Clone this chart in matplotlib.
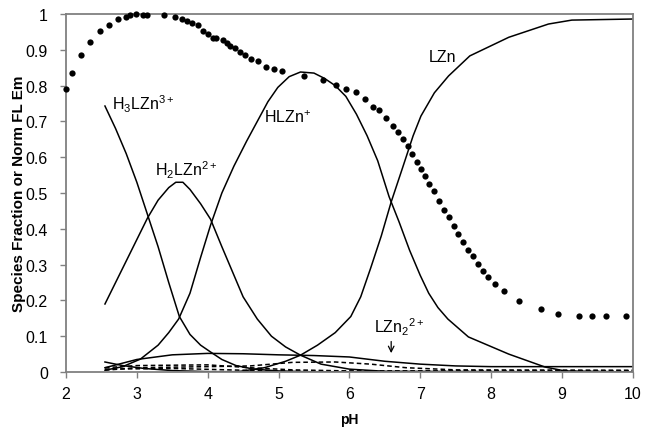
import matplotlib
matplotlib.use("Agg")
import matplotlib.pyplot as plt

plt.rcParams['font.family'] = ['Liberation Sans', 'DejaVu Sans']
plt.rcParams['mathtext.fontset'] = 'custom'
plt.rcParams['mathtext.rm'] = 'Liberation Sans'
plt.rcParams['mathtext.default'] = 'rm'

# normalised fluorescence emission (dots)
ph_fl = [2.00, 2.08, 2.21, 2.34, 2.48, 2.61, 2.74, 2.84, 2.91, 2.99, 3.08, 3.15, 3.39,
         3.54, 3.64, 3.71, 3.78, 3.86, 3.93, 4.00, 4.07, 4.12, 4.21, 4.27, 4.32, 4.38,
         4.45, 4.52, 4.61, 4.71, 4.82, 4.93, 5.05, 5.36, 5.63, 5.81, 5.95, 6.09, 6.22,
         6.33, 6.42, 6.52, 6.62, 6.69, 6.76, 6.83, 6.89, 6.96, 7.01, 7.07, 7.13, 7.20,
         7.27, 7.33, 7.40, 7.47, 7.54, 7.61, 7.68, 7.75, 7.82, 7.89, 7.96, 8.05, 8.18,
         8.39, 8.71, 8.95, 9.24, 9.42, 9.62, 9.90]
fl_em = [0.791, 0.835, 0.885, 0.922, 0.953, 0.969, 0.986, 0.992, 0.997, 1.0, 0.998, 0.998, 0.998,
         0.992, 0.986, 0.980, 0.975, 0.969, 0.953, 0.944, 0.933, 0.933, 0.927, 0.919, 0.911, 0.905,
         0.894, 0.885, 0.874, 0.869, 0.852, 0.846, 0.841, 0.827, 0.816, 0.802, 0.791, 0.782, 0.762,
         0.740, 0.732, 0.709, 0.687, 0.670, 0.651, 0.631, 0.609, 0.587, 0.567, 0.547, 0.525, 0.506,
         0.478, 0.453, 0.433, 0.408, 0.385, 0.363, 0.341, 0.324, 0.302, 0.282, 0.265, 0.246, 0.226,
         0.198, 0.176, 0.162, 0.156, 0.156, 0.156, 0.156]

# species distribution
ph_h3 = [2.55, 2.7, 2.85, 3.0, 3.15, 3.3, 3.45, 3.6, 3.75, 3.9, 4.04, 4.2, 4.4, 4.65, 5.0, 5.5, 10.0]
h3lzn = [0.743, 0.68, 0.61, 0.53, 0.44, 0.35, 0.25, 0.155, 0.105, 0.075, 0.056, 0.035, 0.018,
         0.008, 0.003, 0.0, 0.0]

ph_h2 = [2.55, 2.7, 2.85, 3.0, 3.15, 3.3, 3.45, 3.55, 3.65, 3.75, 3.9, 4.04, 4.2, 4.35, 4.5, 4.7,
         4.9, 5.1, 5.31, 5.6, 6.0, 6.5, 10.0]
h2lzn = [0.19, 0.25, 0.31, 0.37, 0.43, 0.48, 0.515, 0.53, 0.53, 0.51, 0.47, 0.427, 0.35, 0.28,
         0.21, 0.148, 0.10, 0.07, 0.047, 0.022, 0.008, 0.002, 0.0]

ph_h1 = [2.55, 2.8, 3.05, 3.3, 3.45, 3.59, 3.75, 3.9, 4.04, 4.2, 4.37, 4.55, 4.7, 4.85, 4.99, 5.15,
         5.31, 5.5, 5.65, 5.8, 5.95, 6.1, 6.25, 6.4, 6.56, 6.7, 6.85, 7.0, 7.12, 7.25, 7.39, 7.68,
         8.25, 8.76, 9.04, 10.0]
hlzn = [0.005, 0.015, 0.036, 0.075, 0.11, 0.148, 0.22, 0.32, 0.41, 0.50, 0.575, 0.645, 0.70, 0.755,
        0.795, 0.825, 0.838, 0.835, 0.82, 0.80, 0.77, 0.72, 0.66, 0.59, 0.49, 0.42, 0.34, 0.27,
        0.22, 0.18, 0.148, 0.098, 0.05, 0.014, 0.003, 0.0]

ph_l = [4.4, 4.8, 5.1, 5.31, 5.55, 5.8, 6.02, 6.16, 6.3, 6.45, 6.59, 6.75, 6.9, 7.01, 7.2, 7.4,
        7.7, 8.25, 8.81, 9.14, 10.0]
lzn = [0.0, 0.012, 0.03, 0.047, 0.075, 0.11, 0.155, 0.21, 0.29, 0.38, 0.475, 0.57, 0.66, 0.715,
       0.78, 0.827, 0.883, 0.935, 0.972, 0.983, 0.986]

ph_l2 = [2.55, 3.0, 3.5, 4.0, 4.5, 5.0, 5.5, 6.0, 6.5, 7.0, 7.5, 8.0, 10.0]
lzn2 = [0.012, 0.035, 0.048, 0.052, 0.051, 0.048, 0.046, 0.042, 0.030, 0.022, 0.017, 0.015, 0.015]

ph_s1 = [2.55, 2.8, 3.1, 3.5, 4.0, 10.0]
small1 = [0.028, 0.018, 0.010, 0.004, 0.001, 0.0]

ph_da = [2.55, 3.0, 4.0, 4.6, 5.2, 5.8, 6.3, 6.8, 7.5, 10.0]
dash_a = [0.005, 0.012, 0.015, 0.017, 0.027, 0.028, 0.022, 0.012, 0.006, 0.005]
ph_db = [2.55, 3.0, 4.0, 4.6, 5.2, 6.0, 10.0]
dash_b = [0.012, 0.018, 0.020, 0.012, 0.006, 0.003, 0.003]
ph_dc = [2.55, 3.5, 4.5, 5.5, 10.0]
dash_c = [0.008, 0.010, 0.005, 0.002, 0.002]

fig = plt.figure(figsize=(6.47, 4.35), dpi=100)
ax = fig.add_axes([0.102, 0.1425, 0.876, 0.823])

lw = 1.1
for xs, ys in [(ph_h3, h3lzn), (ph_h2, h2lzn), (ph_h1, hlzn), (ph_l, lzn),
               (ph_l2, lzn2), (ph_s1, small1)]:
    ax.plot(xs, ys, color='black', lw=lw)
for xs, ys in [(ph_da, dash_a), (ph_db, dash_b), (ph_dc, dash_c)]:
    ax.plot(xs, ys, color='black', lw=lw, ls=(0, (3, 2)))

ax.plot(ph_fl, fl_em, 'o', color='black', ms=4.5, mec='none', clip_on=False, zorder=5)

# species labels
fs = 11.5
ax.text(2.65, 0.75, r'H$_3$LZn$^{3+}$', fontsize=fs, va='center')
ax.text(3.26, 0.567, r'H$_2$LZn$^{2+}$', fontsize=fs, va='center')
ax.text(4.79, 0.713, r'HLZn$^{+}$', fontsize=fs, va='center')
ax.text(7.12, 0.88, 'LZn', fontsize=fs, va='center')
ax.text(6.35, 0.128, r'LZn$_2$$^{2+}$', fontsize=fs, va='center')
ax.annotate('', xy=(6.59, 0.045), xytext=(6.59, 0.093),
            arrowprops=dict(arrowstyle='->', color='black', lw=0.9))

ax.set_xlim(2, 10)
ax.set_ylim(0, 1)
ax.set_xticks(range(2, 11))
ax.set_yticks([i / 10 for i in range(11)])
ax.set_yticklabels(['0'] + ['0.%d' % i for i in range(1, 10)] + ['1'])
ax.tick_params(labelsize=11.5, direction='out', length=4, color='#808080', width=1)
ax.tick_params(axis='y', pad=9)
ax.tick_params(axis='x', pad=6)
for s in ax.spines.values():
    s.set_color('#808080')
    s.set_linewidth(1.3)

ax.set_xlabel('pH', fontsize=10, fontweight='bold', labelpad=8)
ax.set_ylabel('Species Fraction or Norm FL Em', fontsize=11, fontweight='bold', labelpad=0)

fig.savefig('out.png', dpi=100)
